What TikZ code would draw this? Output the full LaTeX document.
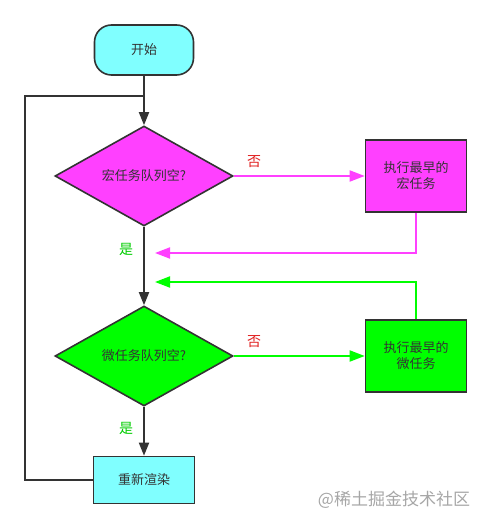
\documentclass[tikz,border=0pt]{standalone}
\usepackage{fontspec}
\setmainfont{Noto Sans CJK SC}
\usetikzlibrary{arrows.meta,shapes.geometric}
\definecolor{bord}{HTML}{333333}
\definecolor{cyanf}{HTML}{80FFFF}
\definecolor{magf}{HTML}{FF40FF}
\definecolor{grnf}{HTML}{00FF00}
\definecolor{lblred}{HTML}{E02020}
\definecolor{lblgrn}{HTML}{00CC00}
\tikzset{
  x=1pt, y=-1pt,
  every node/.style={font=\fontsize{13}{16}\selectfont, text=bord},
  startbox/.style={draw=bord, line width=1.6pt, rounded corners=17pt, fill=cyanf, minimum width=99pt, minimum height=50pt, inner sep=0pt},
  decide/.style={draw=bord, line width=1.6pt, diamond, minimum width=178pt, minimum height=100pt, inner sep=0pt},
  actbox/.style={draw=bord, line width=1.6pt, minimum width=101pt, minimum height=72pt, inner sep=0pt, align=center},
  rendbox/.style={draw=bord, line width=1.6pt, fill=cyanf, minimum width=101pt, minimum height=47pt, inner sep=0pt},
  darkline/.style={draw=bord, line width=1.8pt},
  darkarrow/.style={darkline, -{Triangle[length=13pt,width=10pt]}},
  magarrow/.style={draw=magf, line width=1.8pt, -{Triangle[length=15pt,width=11pt]}},
  grnarrow/.style={draw=grnf, line width=1.8pt, -{Triangle[length=15pt,width=11pt]}},
  nolbl/.style={text=lblred, font=\fontsize{14}{16}\selectfont},
  yeslbl/.style={text=lblgrn, font=\fontsize{14}{16}\selectfont},
}
\begin{document}
\begin{tikzpicture}
\useasboundingbox (0,0) rectangle (491,529);
\node[startbox] (start) at (144,50) {开始};
\node[decide, fill=magf] (d1) at (144,176) {宏任务队列空?};
\node[actbox, fill=magf] (b1) at (416,176) {执行最早的\\宏任务};
\node[decide, fill=grnf] (d2) at (144,356) {微任务队列空?};
\node[actbox, fill=grnf] (b2) at (416,356) {执行最早的\\微任务};
\node[rendbox] (b3) at (144,480) {重新渲染};
\coordinate (jn) at (144,96);
\coordinate (lc) at (25,96);
\coordinate (r1) at (155,253);
\coordinate (r2) at (155,282);

\draw[darkarrow] (start.south) -- (d1.north);
\draw[darkline] (b3.west) -| (lc) -- (jn);
\draw[darkarrow] (d1.south) -- (d2.north);
\draw[darkarrow] (d2.south) -- (b3.north);
\draw[magarrow] (d1.east) -- (b1.west);
\draw[grnarrow] (d2.east) -- (b2.west);
\draw[magarrow] (b1.south) |- (r1);
\draw[grnarrow] (b2.north) |- (r2);

\node[nolbl] (n1) at (254,162) {否};
\node[nolbl] (n2) at (254,342) {否};
\node[yeslbl] (y1) at (126,249) {是};
\node[yeslbl] (y2) at (126,428) {是};
\node[text=black!35, font=\fontsize{17}{20}\selectfont] (wm) at (394,500) {@稀土掘金技术社区};
\end{tikzpicture}
\end{document}
